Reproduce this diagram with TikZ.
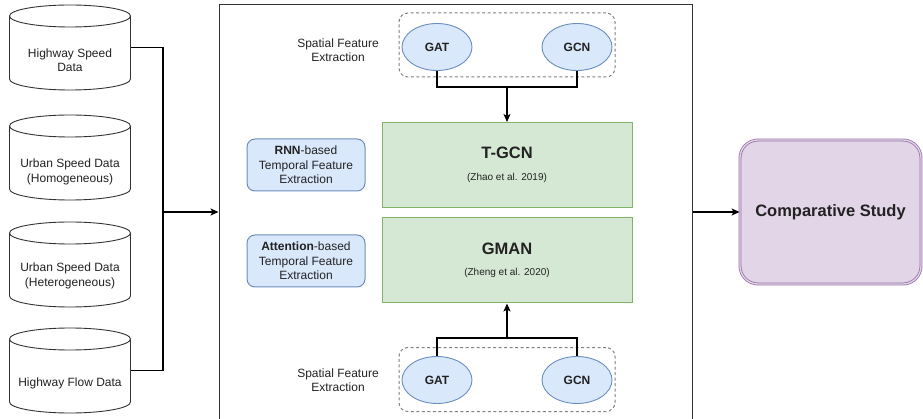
\documentclass[tikz,border=0pt]{standalone}
\usepackage{fontspec}
\setmainfont{Liberation Sans}
\usetikzlibrary{arrows.meta,shapes.geometric}
\definecolor{blueF}{HTML}{DAE8FC}
\definecolor{blueS}{HTML}{6C8EBF}
\definecolor{greenF}{HTML}{D5E8D4}
\definecolor{greenS}{HTML}{82B366}
\definecolor{purpF}{HTML}{E1D5E7}
\definecolor{purpS}{HTML}{9673A6}
\definecolor{txt}{HTML}{222222}
\definecolor{edge}{HTML}{333333}
\newcommand\dbcyl[5]{%
  \node[cylbox] (#1) at (#2,#3) {};
  \draw[cylline, fill=white] (#2-60.5,#3-31.5) -- (#2-60.5,#3+31.5)
     arc[start angle=180,end angle=0,x radius=60.5,y radius=11] -- (#2+60.5,#3-31.5);
  \draw[cylline, fill=white] (#2,#3-31.5) ellipse [x radius=60.5,y radius=11];
  \node[plain] (#1t) at (#2,#5) {#4};
}
\begin{document}
\begin{tikzpicture}[x=1pt,y=-1pt,
  font=\fontsize{12}{14.5}\selectfont,
  every node/.style={text=txt},
  plain/.style={align=center, inner sep=0pt},
  cylbox/.style={minimum width=121pt, minimum height=85pt, inner sep=0pt},
  cylline/.style={draw=edge, line width=0.9pt},
  conn/.style={draw=black, line width=1.5pt},
  arr/.style={conn, -{Stealth[length=8pt,width=7pt,inset=2pt]}},
  mainbox/.style={draw=edge, line width=1pt, minimum width=473pt, minimum height=430pt, inner sep=0pt},
  greenbox/.style={draw=greenS, fill=greenF, line width=1pt, minimum width=250pt, minimum height=85pt, align=center, inner sep=0pt},
  bluebox/.style={draw=blueS, fill=blueF, line width=1pt, rounded corners=8pt, minimum width=118pt, minimum height=52pt, align=center, inner sep=0pt},
  ell/.style={ellipse, draw=blueS, fill=blueF, line width=0.9pt, minimum width=70pt, minimum height=47pt, inner sep=0pt, font=\fontsize{12}{14.5}\selectfont\bfseries},
  dashbox/.style={draw=gray, line width=1pt, dash pattern=on 3pt off 2.5pt, rounded corners=9pt, minimum width=216pt, minimum height=64pt, inner sep=0pt},
  purpbox/.style={draw=purpS, double=purpF, double distance=1.3pt, line width=0.8pt, fill=purpF, rounded corners=18pt, minimum width=181pt, minimum height=144pt, inner sep=0pt, font=\fontsize{16.5}{19}\selectfont\bfseries}
]
\useasboundingbox (0,0) rectangle (923,419);

% data sources
\dbcyl{c1}{70}{47.5}{Highway Speed\\Data}{60}
\dbcyl{c2}{70}{157.5}{Urban Speed Data\\(Homogeneous)}{172}
\dbcyl{c3}{70}{264.5}{Urban Speed Data\\(Heterogeneous)}{276}
\dbcyl{c4}{70}{370.5}{Highway Flow Data}{383}

% main frame
\node[mainbox] (main) at (455.5,220) {};

% spatial feature boxes
\node[dashbox] (d1) at (507,45) {};
\node[dashbox] (d2) at (507,379.5) {};
\node[ell] (gat1) at (437,47) {GAT};
\node[ell] (gcn1) at (577,47) {GCN};
\node[ell] (gat2) at (437,380) {GAT};
\node[ell] (gcn2) at (577,380) {GCN};
\node[plain] (sp1) at (338,50) {Spatial Feature\\Extraction};
\node[plain] (sp2) at (338,380) {Spatial Feature\\Extraction};

% models
\node[greenbox] (tgcn) at (507,165) {{\fontsize{16.5}{19}\selectfont\bfseries T-GCN}\\[7pt]{\fontsize{10}{12}\selectfont (Zhao et al. 2019)}};
\node[greenbox] (gman) at (507,260.5) {{\fontsize{16.5}{19}\selectfont\bfseries GMAN}\\[7pt]{\fontsize{10}{12}\selectfont (Zheng et al. 2020)}};

% temporal boxes
\node[bluebox] (rnn) at (306,165) {\textbf{RNN}-based\\Temporal Feature\\Extraction};
\node[bluebox] (att) at (306,261) {\textbf{Attention}-based\\Temporal Feature\\Extraction};

% result
\node[purpbox] (cs) at (830.5,212) {Comparative Study};

% connectors
\coordinate (j) at (163,212);
\draw[conn] (c1.east) -| (j);
\draw[conn] (c4.east) -| (j);
\draw[arr] (j) -- (j -| main.west);

\coordinate (m1) at (507,87);
\draw[conn] (gat1.south) |- (m1);
\draw[conn] (gcn1.south) |- (m1);
\draw[arr] (m1) -- (tgcn.north);

\coordinate (m2) at (507,338);
\draw[conn] (gat2.north) |- (m2);
\draw[conn] (gcn2.north) |- (m2);
\draw[arr] (m2) -- (gman.south);

\draw[arr] (main.east |- cs.west) -- (cs.west);
\end{tikzpicture}
\end{document}
